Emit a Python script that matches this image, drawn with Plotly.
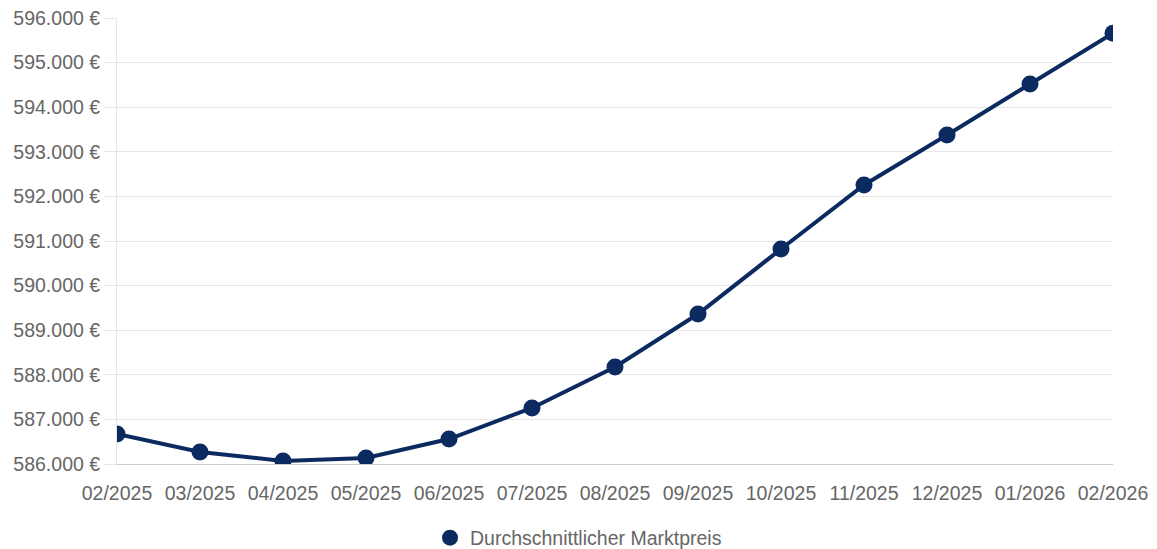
import plotly.graph_objects as go

months = ["02/2025", "03/2025", "04/2025", "05/2025", "06/2025", "07/2025", "08/2025",
          "09/2025", "10/2025", "11/2025", "12/2025", "01/2026", "02/2026"]
prices = [586673, 586269, 586067, 586135, 586560, 587256, 588175,
          589363, 590820, 592256, 593377, 594520, 595660]
series_name = "Durchschnittlicher Marktpreis"
y_ticks = list(range(586000, 597000, 1000))
y_tick_labels = [f"{v // 1000}.000 €" for v in y_ticks]

navy = "#0b2a60"

fig = go.Figure()
fig.add_trace(go.Scatter(
    x=months, y=prices, name=series_name, mode="lines+markers",
    line=dict(color=navy, width=4),
    marker=dict(color=navy, size=17),
    showlegend=False,
))
# legend entry (marker only, as in the reference)
fig.add_trace(go.Scatter(
    x=[None], y=[None], name=series_name, mode="markers",
    marker=dict(color=navy, size=18), showlegend=True,
))

fig.update_layout(
    width=1157, height=549,
    margin=dict(l=117, r=44, t=18, b=85, autoexpand=False),
    paper_bgcolor="white", plot_bgcolor="white",
    font=dict(family="Liberation Sans, Arial, sans-serif", size=19.5, color="#666666"),
    showlegend=True,
    legend=dict(orientation="h", x=0.5, xanchor="center", xref="container",
                y=0.02, yanchor="middle", yref="container",
                font=dict(size=19.5, color="#666666")),
    xaxis=dict(
        type="category", range=[0, len(months) - 1],
        showgrid=False,
        showline=True, linecolor="#cccccc", linewidth=1,
        ticks="", ticklabelstandoff=12, zeroline=False,
    ),
    yaxis=dict(
        range=[586000, 596000], tickvals=y_ticks, ticktext=y_tick_labels,
        showgrid=True, gridcolor="#e6e6e6", gridwidth=1,
        ticks="outside", ticklen=12, tickcolor="#e6e6e6",
        showline=True, linecolor="#e6e6e6", linewidth=1, zeroline=False,
    ),
)

fig.write_html("out.html")
